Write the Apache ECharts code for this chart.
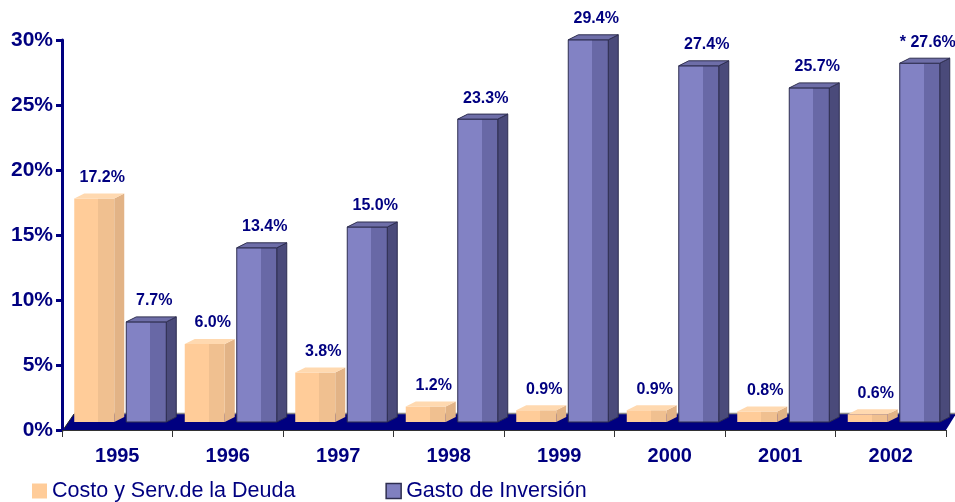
<!DOCTYPE html>
<html>
<head>
<meta charset="utf-8">
<script src="https://cdn.jsdelivr.net/npm/echarts@6/dist/echarts.min.js"></script>
<style>
  html, body { margin: 0; padding: 0; background: #fff; }
  #main { width: 955px; height: 502px; }
</style>
</head>
<body>
<div id="main"></div>
<script>
var years = ['1995', '1996', '1997', '1998', '1999', '2000', '2001', '2002'];
var deuda = [17.2, 6.0, 3.8, 1.2, 0.9, 0.9, 0.8, 0.6];
var inversion = [7.7, 13.4, 15.0, 23.3, 29.4, 27.4, 25.7, 27.6];
var inversionNotes = ['', '', '', '', '', '', '', '* '];
var yTicks = [0, 5, 10, 15, 20, 25, 30];

var NAVY = '#000080';
// colores de cada serie: frente claro, frente oscuro, lateral, tapa
var skins = [
  { light: '#FFCC99', dark: '#F0C090', side: '#E2B386', top: '#FFD9B0', stroke: null, offset: -43 },
  { light: '#8282C4', dark: '#6868A6', side: '#4A4A7A', top: '#6E6EA8', stroke: '#2E2E50', offset: 9 }
];

function makeRender(seriesIdx, notes) {
  return function (params, api) {
    var cat = api.value(0), v = api.value(1);
    var p0 = api.coord([cat, 0]);
    var p1 = api.coord([cat, v]);
    var s = skins[seriesIdx];
    var W = 40, dx = 10, dy = -5, lift = 8;
    var x0 = p0[0] + s.offset, x1 = x0 + W;
    var yb = p0[1] - lift, yt = p1[1] - lift;
    var lw = s.stroke ? 1 : 0;
    var txt = (notes ? notes[params.dataIndex] : '') + v.toFixed(1) + '%';
    return {
      type: 'group',
      children: [
        {
          type: 'polygon',
          shape: { points: [[x1, yt], [x1 + dx, yt + dy], [x1 + dx, yb + dy], [x1, yb]] },
          style: { fill: s.side, stroke: s.stroke, lineWidth: lw }
        },
        {
          type: 'rect',
          shape: { x: x0, y: yt, width: W, height: yb - yt },
          style: {
            fill: new echarts.graphic.LinearGradient(0, 0, 1, 0, [
              { offset: 0, color: s.light },
              { offset: 0.6, color: s.light },
              { offset: 0.6, color: s.dark },
              { offset: 1, color: s.dark }
            ]),
            stroke: s.stroke, lineWidth: lw
          }
        },
        {
          type: 'polygon',
          shape: { points: [[x0, yt], [x0 + dx, yt + dy], [x1 + dx, yt + dy], [x1, yt]] },
          style: { fill: s.top, stroke: s.stroke, lineWidth: lw }
        },
        {
          type: 'text',
          style: {
            text: txt,
            x: x0 + 28,
            y: yt - 21,
            align: 'center',
            verticalAlign: 'middle',
            font: 'bold 16px Arial, "Liberation Sans", sans-serif',
            fill: NAVY
          }
        }
      ]
    };
  };
}

var chart = echarts.init(document.getElementById('main'), null, { renderer: 'canvas' });

var option = {
  animation: false,
  grid: { left: 62, right: 9, top: 40, bottom: 72 },
  legend: {
    left: 27,
    top: 475,
    itemWidth: 15,
    itemHeight: 15,
    itemGap: 90,
    icon: 'rect',
    textStyle: { color: NAVY, fontSize: 21.5, fontFamily: 'Arial, "Liberation Sans", sans-serif' },
    data: [
      { name: 'Costo y Serv.de la Deuda', itemStyle: { color: '#FFCC99' } },
      { name: 'Gasto de Inversión', itemStyle: { color: '#8080C0', borderColor: '#2E2E50', borderWidth: 1.5 } }
    ]
  },
  graphic: [
    {
      type: 'polygon',
      z: 0,
      shape: { points: [[63, 430], [946, 430], [956, 414], [74, 414]] },
      style: { fill: NAVY }
    },
    {
      type: 'line',
      z: 0,
      shape: { x1: 74, y1: 413.5, x2: 956, y2: 413.5 },
      style: { stroke: '#8a8a8a', lineWidth: 1.5 }
    },
    {
      type: 'line',
      z: 0,
      shape: { x1: 63, y1: 430, x2: 74, y2: 414 },
      style: { stroke: '#222', lineWidth: 1 }
    }
  ],
  xAxis: {
    type: 'category',
    data: years,
    axisLine: { lineStyle: { color: '#333', width: 1 } },
    axisTick: { show: true, length: 7, lineStyle: { color: '#333' } },
    axisLabel: {
      margin: 16,
      color: NAVY,
      fontWeight: 'bold',
      fontSize: 20,
      fontFamily: 'Arial, "Liberation Sans", sans-serif'
    },
    z: 3
  },
  yAxis: {
    type: 'value',
    min: yTicks[0],
    max: yTicks[yTicks.length - 1],
    interval: 5,
    splitLine: { show: false },
    axisLine: { show: true, lineStyle: { color: NAVY, width: 3 } },
    axisTick: { show: true, length: 6, lineStyle: { color: NAVY, width: 3 } },
    axisLabel: {
      margin: 9,
      color: NAVY,
      fontWeight: 'bold',
      fontSize: 21,
      fontFamily: 'Arial, "Liberation Sans", sans-serif',
      formatter: '{value}%'
    },
    z: 3
  },
  series: [
    {
      name: 'Costo y Serv.de la Deuda',
      type: 'custom',
      itemStyle: { color: '#FFCC99' },
      renderItem: makeRender(0, null),
      encode: { x: 0, y: 1 },
      data: deuda.map(function (v, i) { return [i, v]; })
    },
    {
      name: 'Gasto de Inversión',
      type: 'custom',
      itemStyle: { color: '#8080C0' },
      renderItem: makeRender(1, inversionNotes),
      encode: { x: 0, y: 1 },
      data: inversion.map(function (v, i) { return [i, v]; })
    }
  ]
};

chart.setOption(option);
</script>
</body>
</html>
